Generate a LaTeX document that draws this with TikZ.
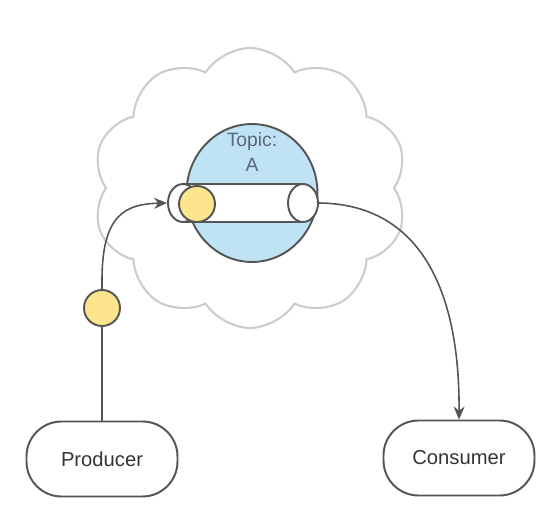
\documentclass[tikz,border=0pt]{standalone}
\usepackage{fontspec}
\setmainfont{Liberation Sans}
\usetikzlibrary{positioning,arrows.meta,shapes.symbols,shapes.geometric}
\definecolor{edgegray}{HTML}{555555}
\definecolor{cloudgray}{HTML}{CCCCCC}
\definecolor{topicblue}{HTML}{BFE2F5}
\definecolor{msgyellow}{HTML}{FDE58E}
\definecolor{labelslate}{HTML}{5A6878}

\begin{document}
\begin{tikzpicture}[x=0.02cm,y=-0.02cm,>={Stealth[length=2.6mm,width=2.2mm]},
  app/.style={draw=edgegray,line width=1.1pt,rounded corners=0.7cm,minimum width=3.02cm,minimum height=1.5cm,font=\fontsize{11.5}{14}\selectfont,text=black!80},
  msg/.style={circle,draw=edgegray,line width=1.1pt,fill=msgyellow,minimum size=0.72cm,inner sep=0pt},
  pipecap/.style={ellipse,draw=edgegray,line width=1.1pt,fill=white,minimum width=0.6cm,minimum height=0.76cm,inner sep=0pt},
  flow/.style={->,draw=edgegray,line width=0.9pt}]
\useasboundingbox (0,0) rectangle (541,510);
\node[cloud,cloud puffs=10,cloud puff arc=115,aspect=1.1,draw=cloudgray,line width=1.2pt,minimum width=6.3cm,minimum height=5.6cm] (broker) at (250,188) {};
\node[ellipse,draw=edgegray,line width=1.1pt,fill=topicblue,minimum width=2.62cm,minimum height=2.76cm] (topic) at (252,193) {};
\node[font=\fontsize{11}{14}\selectfont,text=labelslate,align=center] (topiclabel) at (252,152) {Topic:\\A};
% the pipe inside the topic
\fill[white] (183,184) rectangle (303,222);
\draw[draw=edgegray,line width=1.1pt] (183,184) -- (303,184) (183,222) -- (303,222);
\node[pipecap] (pipeback) at (183,203) {};
\node[pipecap] (pipefront) at (303,203) {};
\node[msg] (queued) at (197,204) {};
\node[msg] (inflight) at (102,308) {};
\node[app] (producer) at (102,459) {Producer};
\node[app] (consumer) at (459,458) {Consumer};
\draw[draw=edgegray,line width=0.9pt] (producer.north) -- (inflight.south);
\draw[flow] (inflight.north) -- (102,280) .. controls (102,215) and (125,204) .. (pipeback.west);
\draw[flow] (pipefront.east) .. controls (420,204) and (460,290) .. (consumer.north);
\end{tikzpicture}
\end{document}
